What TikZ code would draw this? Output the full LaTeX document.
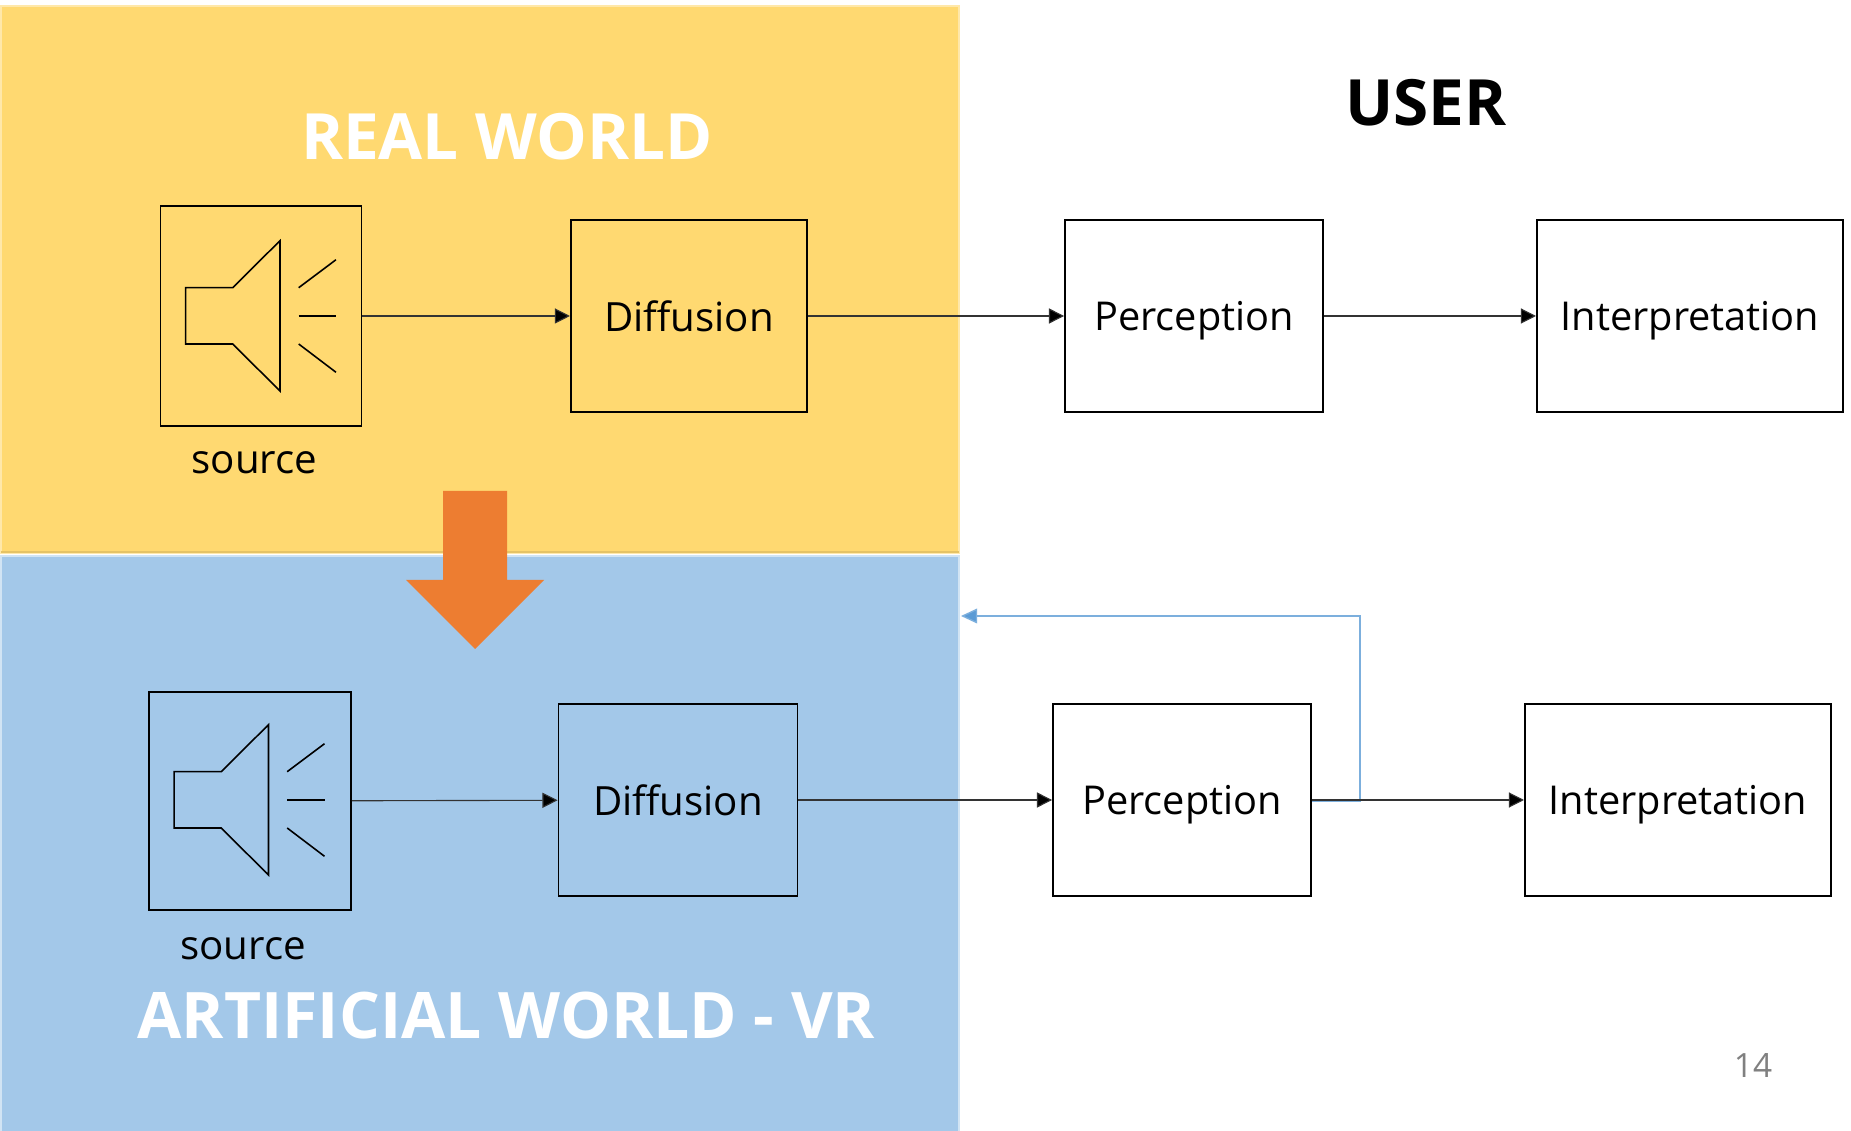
\documentclass[tikz,border=0pt]{standalone}
\usepackage{fontspec}
\usepackage{xcolor}
\setmainfont{Open Sans}
\usetikzlibrary{arrows.meta}
\definecolor{realyellow}{HTML}{FFD971}
\definecolor{vrblue}{HTML}{A3C8E9}
\definecolor{bigorange}{HTML}{ED7D31}
\definecolor{backblue}{HTML}{5B9BD5}
\tikzstyle{block} = [draw=black, line width=0.5pt, inner sep=0pt, text height=8.7pt, text depth=0pt, font=\fontsize{11.45}{14}\selectfont]
\tikzstyle{userblock} = [block, text height=8.1pt, font=\fontsize{11.3}{14}\selectfont]
\tikzstyle{flow} = [draw=black!80, line width=0.32pt, -{Triangle[length=4.3pt,width=4.3pt,fill=black]}]
\tikzstyle{title} = [inner sep=0pt, font=\bfseries\fontsize{18.15}{22}\selectfont]

\begin{document}
\begin{tikzpicture}[x=0.01cm,y=-0.01cm]
\useasboundingbox (0,0) rectangle (1851,1131);
\fill[white] (0,0) rectangle (1851,1131);
\draw[fill=realyellow, draw=realyellow!60!white, line width=0.4pt] (1,6) rectangle (959,553);
\draw[fill=vrblue, draw=vrblue!50!white, line width=0.5pt] (1,556) rectangle (959,1133);
\draw[draw=realyellow!90!black, line width=0.5pt] (1,552) -- (959,552);

\node[block, minimum width=57.2pt, minimum height=62.6pt] (src1) at (261,316) {};
\node[block, minimum width=67.2pt, minimum height=54.7pt] (dif1) at (689,316) {Diffusion};
\node[userblock, minimum width=73.4pt, minimum height=54.7pt] (per1) at (1194,316) {Perception};
\node[userblock, minimum width=87.1pt, minimum height=54.7pt] (int1) at (1690,316) {Interpretation};
\node[block, minimum width=57.5pt, minimum height=62.1pt] (src2) at (250,801) {};
\node[block, minimum width=68pt, minimum height=54.7pt] (dif2) at (678,800) {Diffusion};
\node[userblock, minimum width=73.4pt, minimum height=54.7pt] (per2) at (1182,800) {Perception};
\node[userblock, minimum width=87.1pt, minimum height=54.7pt] (int2) at (1678,800) {Interpretation};

\foreach \ox/\oy in {0/0,-11.5/484}
{
	\begin{scope}[shift={(\ox,\oy)}, line width=0.45pt, line join=miter]
	\draw (185.7,287.7) -- (232.7,287.7) -- (280,240.7) -- (280,391) -- (232.7,344) -- (185.7,344) -- cycle;
	\draw (298.7,287.7) -- (336,259.7);
	\draw (298.7,316) -- (336,316);
	\draw (298.7,344) -- (336,372.3);
	\end{scope}
}

\node[font=\fontsize{11.45}{14}\selectfont, inner sep=0pt] (lab1) at (254.5,463) {source};
\node[font=\fontsize{11.45}{14}\selectfont, inner sep=0pt] (lab2) at (243,949) {source};
\node[title, text=white] (real) at (507,136.5) {REAL WORLD};
\node[title, text=white, font=\bfseries\fontsize{18.25}{22}\selectfont] (art) at (506.5,1016) {ARTIFICIAL WORLD - VR};
\node[title] (user) at (1426,103) {USER};
\node[inner sep=0pt, text=black!50, font=\fontsize{9.5}{12}\selectfont] (page) at (1753,1066) {14};

\coordinate (back) at (961,616);
\draw[draw=backblue!80, line width=0.4pt, -{Triangle[length=4.6pt,width=4.2pt,fill=backblue]}] ([yshift=-0.3pt]per2.east) -| (1360,616) -- (back);

\foreach \from/\to in {src1/dif1,dif1/per1,per1/int1,src2/dif2,dif2/per2,per2/int2}
{
	\draw[flow] (\from) -- (\to);
}

\fill[bigorange] (443,491) -- (507,491) -- (507,580) -- (544,580) -- (475,649) -- (406,580) -- (443,580) -- cycle;
\end{tikzpicture}
\end{document}
